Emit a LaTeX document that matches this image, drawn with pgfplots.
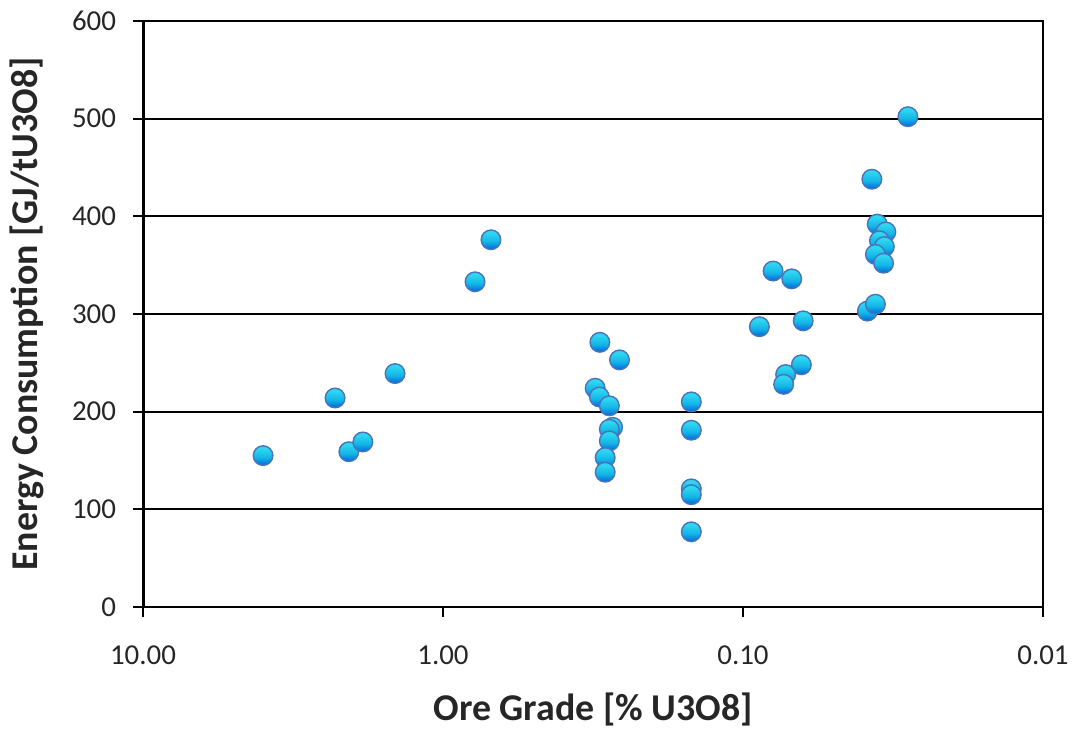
\documentclass[border=0pt]{standalone}
\usepackage{fontspec}
\setmainfont{Carlito}
\usepackage{pgfplots}
\pgfplotsset{compat=1.18}
\definecolor{balltop}{RGB}{45,215,240}
\definecolor{ballmid}{RGB}{20,180,230}
\definecolor{ballbot}{RGB}{0,100,220}
\definecolor{ballrim}{RGB}{75,115,185}
\definecolor{txt}{RGB}{38,38,38}
\pgfdeclareverticalshading{ballshade}{100bp}{color(0bp)=(ballbot); color(25bp)=(ballbot); color(45bp)=(ballmid); color(68bp)=(balltop); color(75bp)=(balltop); color(100bp)=(balltop)}
\pgfdeclareplotmark{ball}{%
  \pgfpathcircle{\pgfpointorigin}{\pgfplotmarksize}%
  \pgfshadepath{ballshade}{0}%
  \pgfpathcircle{\pgfpointorigin}{\pgfplotmarksize}%
  \pgfusepathqstroke}
\begin{document}
\begin{tikzpicture}
\begin{axis}[
  name=ax, at={(0,0)}, anchor=south west,
  scale only axis, width=450bp, height=293bp,
  xmode=log, x dir=reverse, xmin=0.01, xmax=10,
  ymin=0, ymax=600, ytick={0,100,...,600},
  xtick={0.01,0.1,1,10}, xticklabels={0.01,0.10,1.00,10.00},
  xminorticks=false,
  axis line style={black, line width=1bp},
  tick style={black, line width=1bp},
  tick align=outside, major tick length=5bp,
  xtick pos=left, ytick pos=left,
  ymajorgrids, major grid style={black, line width=1bp},
  ticklabel style={font=\fontsize{14.5}{17}\selectfont, text=txt},
  yticklabel style={xshift=-5bp},
  xticklabel style={yshift=-11bp},
  /pgf/number format/assume math mode=true,
]
\draw[black, line width=1.6bp] (rel axis cs:0,0) -- (rel axis cs:0,1);
\draw[black, line width=1.4bp] (rel axis cs:0,0) -- (rel axis cs:1,0);
\addplot[only marks, mark=ball, mark size=4.9bp, mark options={draw=ballrim, line width=0.7bp}] table {
x y
3.98 155
2.29 214
2.06 159
1.85 169
1.445 239
0.782 333
0.692 376
0.300 271
0.258 253
0.311 224
0.301 215
0.279 206
0.272 184
0.279 182
0.279 170
0.288 153
0.288 138
0.1487 210
0.1487 181
0.1487 121
0.1487 115
0.1487 77
0.0794 344
0.0688 336
0.0882 287
0.0630 293
0.0639 248
0.0721 238
0.0732 228
0.0385 303
0.0362 310
0.0282 502
0.0372 438
0.0357 392
0.0334 384
0.0351 375
0.0338 369
0.0362 361
0.0340 352
};
\coordinate (yl) at (rel axis cs:0,0.5);
\coordinate (xl) at (rel axis cs:0.5,0);
\end{axis}
\node[rotate=90, font=\bfseries\fontsize{19}{22}\selectfont, text=txt] at ([xshift=-58bp]yl) {Energy Consumption [GJ/tU3O8]};
\node[font=\bfseries\fontsize{19}{22}\selectfont, text=txt] at ([yshift=-51bp]xl) {Ore Grade [\% U3O8]};
\pgfresetboundingbox
\path (-71.5bp,-61bp) rectangle (464.5bp,303.5bp);
\end{tikzpicture}
\end{document}
